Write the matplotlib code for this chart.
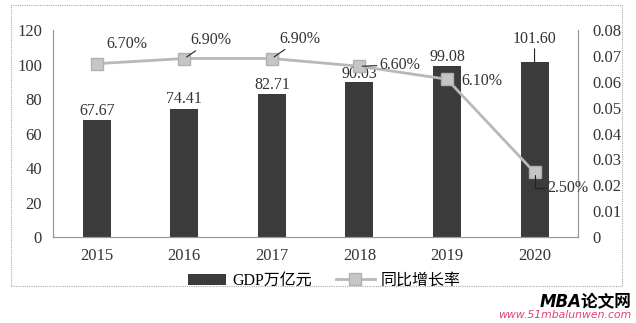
import matplotlib.pyplot as plt
from matplotlib.patches import Rectangle

plt.rcParams['font.family'] = ['Liberation Serif', 'Noto Sans CJK SC']

years = ['2015', '2016', '2017', '2018', '2019', '2020']
gdp = [67.67, 74.41, 82.71, 90.03, 99.08, 101.60]
growth = [0.067, 0.069, 0.069, 0.066, 0.061, 0.025]
growth_labels = ['6.70%', '6.90%', '6.90%', '6.60%', '6.10%', '2.50%']

fig = plt.figure(figsize=(6.36, 3.23), dpi=100)
ax = fig.add_axes([0.0833, 0.266, 0.826, 0.641])
ax2 = ax.twinx()

x = list(range(len(years)))
bars = ax.bar(x, gdp, width=0.32, color='#3b3b3b', label='GDP万亿元', zorder=2)
ax.set_ylim(0, 120)
ax.set_yticks(range(0, 121, 20))
ax.set_xlim(-0.5, 5.5)
ax.set_xticks(x)
ax.set_xticklabels(years)

nobox = dict(boxstyle='square,pad=0.15', fc='none', ec='none')

gdp_offsets = [1, 1, 1, 0, 1, 11]
for xi, v, dy in zip(x, gdp, gdp_offsets):
    ax.annotate(f'{v:.2f}', (xi, v), xytext=(0, dy), textcoords='offset points',
                ha='center', va='bottom', fontsize=11.5, color='#333333', bbox=nobox,
                arrowprops=dict(arrowstyle='-', color='#222222', lw=0.8, shrinkA=0, shrinkB=0)
                if xi == 5 else None)

ln, = ax2.plot(x, growth, color='#b8b8b8', lw=2.0, marker='s', markersize=8,
               markerfacecolor='#c6c6c6', markeredgecolor='#b0b0b0', label='同比增长率', zorder=3)
ax2.set_ylim(0, 0.08)
ax2.set_yticks([0, 0.01, 0.02, 0.03, 0.04, 0.05, 0.06, 0.07, 0.08])
ax2.set_yticklabels(['0', '0.01', '0.02', '0.03', '0.04', '0.05', '0.06', '0.07', '0.08'])

# percentage labels, offsets in points
offsets = [(22, 14), (19, 13), (20, 14), (29, 1), (25, -1), (24, -11)]
leaders = [False, True, True, True, False, True]
for xi, v, lab, (dx, dy), ld in zip(x, growth, growth_labels, offsets, leaders):
    conn = 'angle,angleA=0,angleB=90,rad=0' if xi == 5 else 'arc3'
    ax2.annotate(lab, (xi, v), xytext=(dx, dy), textcoords='offset points',
                 ha='center', va='center', fontsize=11.5, color='#333333', bbox=nobox,
                 arrowprops=dict(arrowstyle='-', color='#222222', lw=0.8, shrinkA=0, shrinkB=2,
                                 connectionstyle=conn)
                 if ld else None)

for a in (ax, ax2):
    a.spines['top'].set_visible(False)
    a.tick_params(length=0, labelsize=12, colors='#333333')
    for s in a.spines.values():
        s.set_color('#999999')
        s.set_linewidth(0.8)
ax.tick_params(axis='x', pad=8)
ax.tick_params(axis='y', pad=8)
ax2.tick_params(axis='y', pad=10)

fig.legend(handles=[bars, ln], loc='center', bbox_to_anchor=(0.51, 0.13), ncol=2,
           frameon=False, fontsize=11.5, handlelength=2.4, columnspacing=1.5,
           handletextpad=0.4)

# outer frame
fig.patches.append(Rectangle((0.018, 0.115), 0.96, 0.868, transform=fig.transFigure,
                             fill=False, edgecolor='#aaaaaa', lw=0.8, ls=(0, (1, 1))))

fig.text(0.993, 0.065, 'MBA论文网', ha='right', va='center', fontsize=12,
         fontweight='bold', style='italic', family=['DejaVu Sans', 'Noto Sans CJK SC'])
fig.text(0.993, 0.01, 'www.51mbalunwen.com', ha='right', va='bottom', fontsize=7.8,
         style='italic', color='#e0407f', family=['DejaVu Sans'])

fig.savefig('out.png', dpi=100)
